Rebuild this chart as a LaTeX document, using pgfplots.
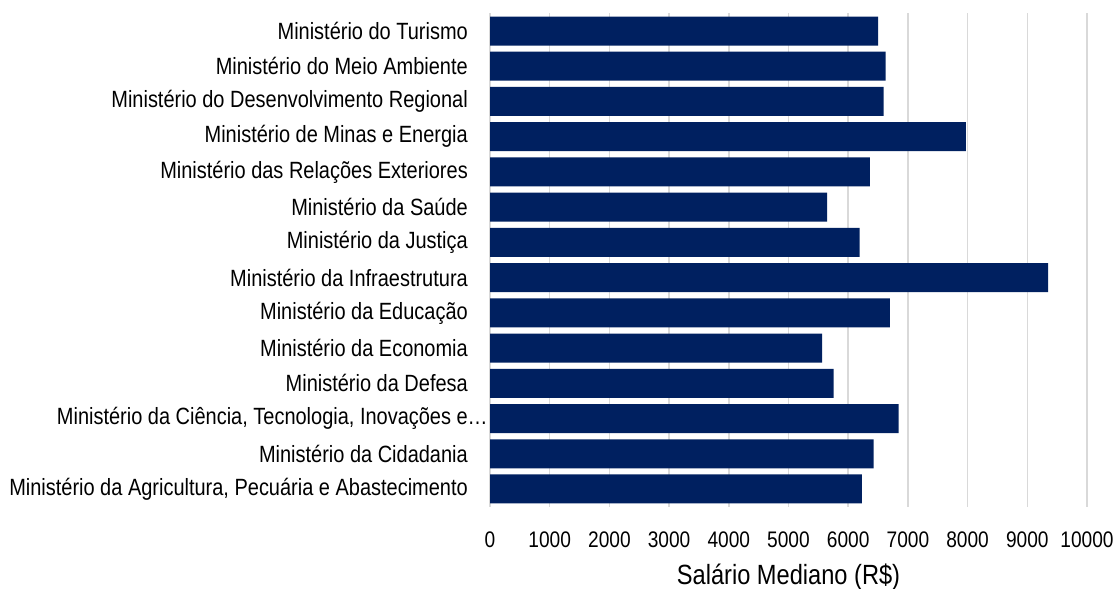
\documentclass[border=0pt]{standalone}
\usepackage{fontspec}
\setmainfont[FakeStretch=0.85]{Liberation Sans}
\usepackage{pgfplots}
\pgfplotsset{compat=1.18}
\definecolor{barblue}{RGB}{0,32,96}
\definecolor{gridgray}{RGB}{217,217,217}
\begin{document}
\begin{tikzpicture}
\useasboundingbox (0,0) rectangle (1118bp,589bp);
\begin{axis}[
  at={(490bp,82.4bp)}, anchor=south west,
  scale only axis, width=597bp, height=493.2bp,
  xbar, bar width=29bp,
  xmin=0, xmax=10000, ymin=-0.5, ymax=13.5,
  xtick={0,1000,...,10000},
  ytick={0,...,13},
  yticklabels={
    {Ministério da Agricultura, Pecuária e Abastecimento},
    {Ministério da Cidadania},
    {Ministério da Ciência, Tecnologia, Inovações e\rlap{…}},
    {Ministério da Defesa},
    {Ministério da Economia},
    {Ministério da Educação},
    {Ministério da Infraestrutura},
    {Ministério da Justiça},
    {Ministério da Saúde},
    {Ministério das Relações Exteriores},
    {Ministério de Minas e Energia},
    {Ministério do Desenvolvimento Regional},
    {Ministério do Meio Ambiente},
    {Ministério do Turismo}},
  xmajorgrids,
  major grid style={gridgray, line width=1.5bp},
  axis line style={draw=none},
  major tick length=0pt,
  tick style={draw=none},
  /pgf/number format/assume math mode=true,
  scaled x ticks=false,
  xticklabel style={/pgf/number format/1000 sep={}, anchor=center, yshift=-33.4bp,
    font=\fontsize{22.5bp}{26bp}\selectfont},
  yticklabel style={anchor=east, inner sep=0pt, xshift=-22bp,
    font=\fontsize{23.5bp}{26bp}\selectfont},
  xlabel={Salário Mediano (R\$)},
  x label style={at={(axis description cs:0.5,0)}, anchor=center, yshift=-70bp,
    inner sep=0pt, font=\fontsize{27.8bp}{31bp}\selectfont},
]
\addplot[fill=barblue, draw=none] coordinates {
  (6230,0) (6427,1) (6845,2) (5757,3) (5565,4) (6699,5) (9348,6)
  (6191,7) (5649,8) (6365,9) (7970,10) (6594,11) (6628,12) (6500,13)
};
\end{axis}
\end{tikzpicture}
\end{document}
